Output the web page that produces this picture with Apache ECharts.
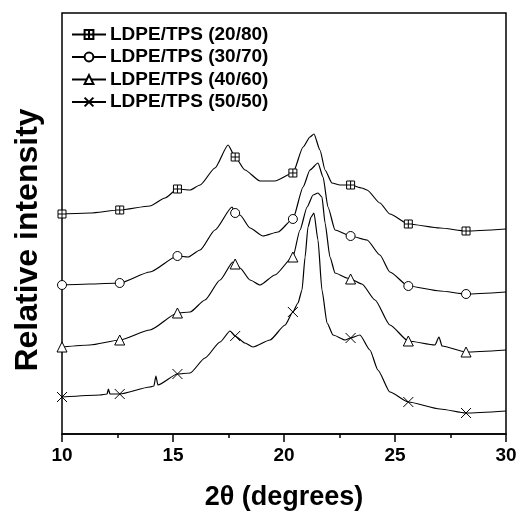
<!DOCTYPE html>
<html>
<head>
<meta charset="utf-8">
<script src="https://cdn.jsdelivr.net/npm/echarts@6/dist/echarts.min.js"></script>
<style>
  html, body { margin: 0; padding: 0; background: #fff; }
  #main { width: 521px; height: 516px; }
</style>
</head>
<body>
<div id="main"></div>
<script>
// 图例名称
const seriesNames = ['LDPE/TPS (20/80)', 'LDPE/TPS (30/70)', 'LDPE/TPS (40/60)', 'LDPE/TPS (50/50)']
// 标记点所在的 2θ 位置
const markerX = [10, 12.6, 15.2, 17.8, 20.4, 23.0, 25.6, 28.2]
const xTicks = [10, 15, 20, 25, 30]

// 各曲线 [2θ, 相对强度]（曲线已做纵向偏移）
const curve2080 = [
  [10, 220], [11.26, 221], [12.6, 224], [13.96, 228], [14.64, 236], [15.2, 245], [15.77, 244],
  [16.22, 249], [16.89, 266], [17.48, 289], [17.8, 277], [18.24, 264], [18.92, 253], [19.59, 253],
  [20.4, 261], [20.86, 287], [21.17, 297], [21.35, 300], [21.62, 284], [21.85, 264], [22.16, 251],
  [22.52, 249], [23.0, 249], [23.51, 246], [23.74, 244], [24.32, 231], [24.77, 220], [25.6, 210],
  [27.03, 206], [28.2, 203], [30, 205]
]
const curve3070 = [
  [10, 149], [11.26, 150], [12.6, 151], [13.96, 162], [15.2, 178], [15.68, 177], [16.22, 184],
  [16.89, 204], [17.66, 227], [17.8, 221], [18.02, 219], [18.47, 206], [19.05, 198], [19.73, 202],
  [20.4, 215], [20.86, 247], [21.17, 264], [21.53, 271], [21.76, 257], [21.98, 227], [22.3, 204],
  [23.0, 198], [23.74, 194], [24.32, 179], [24.77, 162], [25.6, 148], [27.03, 143], [28.2, 140],
  [30, 142]
]
const curve4060 = [
  [10, 87], [11.26, 89], [12.6, 94], [13.96, 104], [15.2, 121], [15.77, 122], [16.44, 134],
  [17.12, 154], [17.7, 172], [17.8, 170], [18.02, 166], [18.47, 154], [18.92, 149], [19.59, 159],
  [20.4, 177], [20.72, 204], [21.04, 227], [21.31, 239], [21.53, 241], [21.71, 237], [21.85, 211],
  [22.07, 177], [22.3, 161], [22.84, 156], [23.0, 155], [23.51, 150], [24.1, 134], [24.77, 109],
  [25.6, 93], [26.8, 89], [26.98, 97], [27.12, 88], [28.2, 82], [30, 84]
]
const curve5050 = [
  [10, 37], [11.71, 39], [12.03, 40], [12.09, 45], [12.16, 40], [12.6, 40], [13.96, 47],
  [14.14, 48], [14.23, 58], [14.32, 49], [15.2, 60], [15.77, 61], [16.44, 76], [17.12, 92],
  [17.57, 103], [17.8, 98], [18.24, 91], [18.6, 87], [19.37, 94], [20.05, 109], [20.4, 122],
  [20.63, 131], [20.81, 144], [20.95, 177], [21.08, 207], [21.22, 217], [21.35, 221], [21.53, 194],
  [21.71, 144], [21.94, 111], [22.21, 99], [22.75, 94], [23.0, 96], [23.42, 99], [23.87, 84],
  [24.23, 64], [24.77, 42], [25.6, 32], [27.03, 25], [28.2, 21], [30, 23]
]

const curves = [curve2080, curve3070, curve4060, curve5050]
const symbols = [
  'path://M0,0H10V10H0Z M5,0V10 M0,5H10',
  'circle',
  'triangle',
  'path://M0,0L10,10 M10,0L0,10'
]
const symbolSizes = [8, 9, 10, 10]

const font = '"Liberation Sans", Arial, sans-serif'

// 只在 markerX 的位置显示标记
function buildData(curve) {
  return curve.map(function (p) {
    if (markerX.indexOf(p[0]) >= 0) return { value: p }
    return { value: p, symbol: 'none' }
  })
}

const chart = echarts.init(document.getElementById('main'))
const option = {
  animation: false,
  grid: {
    left: 62,
    right: 15,
    top: 13,
    bottom: 82,
    show: true,
    borderColor: '#000',
    borderWidth: 1.5
  },
  legend: {
    orient: 'vertical',
    left: 66,
    top: 20,
    itemWidth: 34,
    itemHeight: 11,
    itemGap: 3.5,
    data: seriesNames,
    textStyle: {
      fontFamily: font,
      fontWeight: 'bold',
      fontSize: 19,
      color: '#000',
      padding: [0, 0, 0, -1]
    }
  },
  xAxis: {
    type: 'value',
    min: 10,
    max: 30,
    interval: 5,
    name: '2θ (degrees)',
    nameLocation: 'middle',
    nameGap: 50,
    nameTextStyle: {
      fontFamily: font,
      fontWeight: 'bold',
      fontSize: 27,
      color: '#000'
    },
    axisLine: { show: true, lineStyle: { color: '#000', width: 1.5 } },
    axisTick: { show: true, length: 8, lineStyle: { color: '#000', width: 1.5 } },
    minorTick: { show: true, splitNumber: 2, length: 4, lineStyle: { color: '#000', width: 1.5 } },
    splitLine: { show: false },
    axisLabel: {
      margin: 12,
      fontFamily: font,
      fontWeight: 'bold',
      fontSize: 19,
      color: '#000',
      formatter: function (v) { return xTicks.indexOf(v) >= 0 ? String(v) : '' }
    }
  },
  yAxis: {
    type: 'value',
    min: 0,
    max: 421,
    show: false
  },
  graphic: [
    {
      type: 'text',
      x: 28,
      y: 240,
      rotation: Math.PI / 2,
      style: {
        text: 'Relative intensity',
        font: 'bold 32px "Liberation Sans", Arial, sans-serif',
        fill: '#000',
        align: 'center',
        verticalAlign: 'middle'
      }
    }
  ],
  series: curves.map(function (curve, i) {
    return {
      name: seriesNames[i],
      type: 'line',
      data: buildData(curve),
      symbol: symbols[i],
      symbolSize: symbolSizes[i],
      showAllSymbol: true,
      smooth: 0.2,
      smoothMonotone: 'x',
      clip: true,
      lineStyle: { color: '#000', width: 1.2 },
      itemStyle: { color: '#fff', borderColor: '#000', borderWidth: 1 }
    }
  })
}
chart.setOption(option)
window.onresize = chart.resize
</script>
</body>
</html>
